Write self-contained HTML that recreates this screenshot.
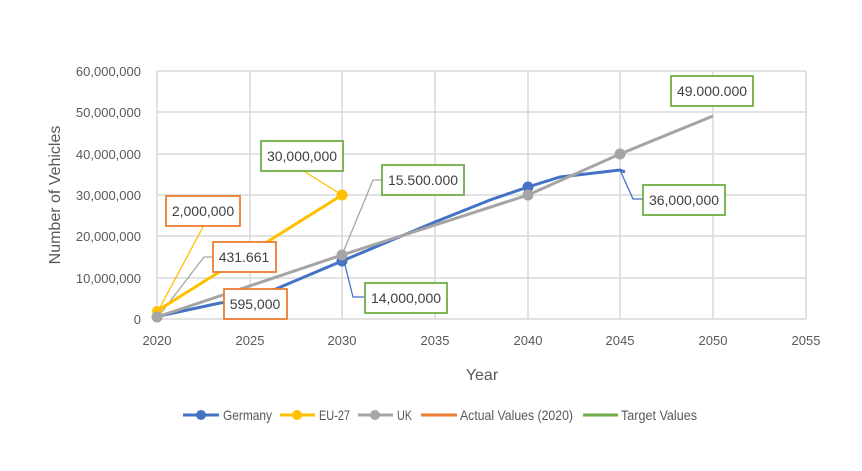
<!DOCTYPE html>
<html><head><style>body{margin:0;background:#fff}svg text{font-family:"Liberation Sans",sans-serif}</style></head><body>
<svg width="862" height="466" viewBox="0 0 862 466" xmlns="http://www.w3.org/2000/svg">
<rect width="862" height="466" fill="#fff"/>
<g stroke="#d9d9d9" stroke-width="1.5">
<line x1="157" y1="71" x2="806" y2="71"/><line x1="157" y1="112" x2="806" y2="112"/><line x1="157" y1="154" x2="806" y2="154"/><line x1="157" y1="195" x2="806" y2="195"/><line x1="157" y1="236" x2="806" y2="236"/><line x1="157" y1="278" x2="806" y2="278"/><line x1="157" y1="319" x2="806" y2="319"/>
<line x1="157" y1="71" x2="157" y2="319"/><line x1="250" y1="71" x2="250" y2="319"/><line x1="342" y1="71" x2="342" y2="319"/><line x1="435" y1="71" x2="435" y2="319"/><line x1="528" y1="71" x2="528" y2="319"/><line x1="620" y1="71" x2="620" y2="319"/><line x1="713" y1="71" x2="713" y2="319"/><line x1="806" y1="71" x2="806" y2="319"/>
</g>
<g font-size="13" fill="#595959" text-anchor="end">
<text x="141" y="76">60,000,000</text><text x="141" y="117">50,000,000</text><text x="141" y="159">40,000,000</text><text x="141" y="200">30,000,000</text><text x="141" y="241">20,000,000</text><text x="141" y="283">10,000,000</text><text x="141" y="324">0</text>
</g>
<g font-size="13" fill="#595959" text-anchor="middle">
<text x="157" y="345">2020</text><text x="250" y="345">2025</text><text x="342" y="345">2030</text><text x="435" y="345">2035</text><text x="528" y="345">2040</text><text x="620" y="345">2045</text><text x="713" y="345">2050</text><text x="806" y="345">2055</text>
</g>
<text x="482" y="380" font-size="16" fill="#595959" text-anchor="middle">Year</text>
<text transform="translate(60,195) rotate(-90)" font-size="16" fill="#595959" text-anchor="middle">Number of Vehicles</text>
<g fill="none" stroke-width="1.3">
<polyline points="158,311 203,227" stroke="#ffc000"/>
<polyline points="158,317 204,257 214,257" stroke="#a5a5a5"/>
<polyline points="342,195 302,170" stroke="#ffc000"/>
<polyline points="342,255 373,180 382,180" stroke="#a5a5a5"/>
<polyline points="344,261 353,297 364,297" stroke="#4472c4"/>
<polyline points="620,170 633,199 643,199" stroke="#4472c4"/>
</g>
<polyline fill="none" stroke="#4472c4" stroke-width="3" points="157,316.5 220,303 250,300 342,261 435,222 490,200 528,187 560,177 620,170 625,172"/>
<polyline fill="none" stroke="#ffc000" stroke-width="3" points="157,311 342,195"/>
<polyline fill="none" stroke="#a5a5a5" stroke-width="3" points="157,317 342,255 528,195 620,154 713,116"/>
<circle cx="157" cy="311" r="5" fill="#ffc000"/><circle cx="342" cy="195" r="5.5" fill="#ffc000"/>
<circle cx="342" cy="261" r="5.5" fill="#4472c4"/><circle cx="528" cy="187" r="5.5" fill="#4472c4"/>
<circle cx="157" cy="317" r="5.5" fill="#a5a5a5"/><circle cx="342" cy="255" r="5.5" fill="#a5a5a5"/><circle cx="528" cy="195" r="5.5" fill="#a5a5a5"/><circle cx="620" cy="154" r="5.5" fill="#a5a5a5"/>
<g font-size="14" fill="#404040" stroke-width="1.8">
<rect x="166" y="196" width="74" height="30" fill="#fff" stroke="#ed7d31"/><text x="203" y="216" text-anchor="middle" stroke="none">2,000,000</text>
<rect x="213" y="242" width="63" height="30" fill="#fff" stroke="#ed7d31"/><text x="244" y="262" text-anchor="middle" stroke="none">431.661</text>
<rect x="224" y="289" width="63" height="30" fill="#fff" stroke="#ed7d31"/><text x="255" y="309" text-anchor="middle" stroke="none">595,000</text>
<rect x="261" y="141" width="82" height="30" fill="#fff" stroke="#70ad47"/><text x="302" y="161" text-anchor="middle" stroke="none">30,000,000</text>
<rect x="382" y="165" width="82" height="30" fill="#fff" stroke="#70ad47"/><text x="423" y="185" text-anchor="middle" stroke="none">15.500.000</text>
<rect x="365" y="283" width="82" height="30" fill="#fff" stroke="#70ad47"/><text x="406" y="303" text-anchor="middle" stroke="none">14,000,000</text>
<rect x="643" y="185" width="82" height="30" fill="#fff" stroke="#70ad47"/><text x="684" y="205" text-anchor="middle" stroke="none">36,000,000</text>
<rect x="671" y="76" width="82" height="30" fill="#fff" stroke="#70ad47"/><text x="712" y="96" text-anchor="middle" stroke="none">49.000.000</text>
</g>
<g font-size="14" fill="#595959" stroke-width="3">
<line x1="183" y1="415" x2="219" y2="415" stroke="#4472c4"/><circle cx="201" cy="415" r="5" fill="#4472c4"/><text x="223" y="420" textLength="49" lengthAdjust="spacingAndGlyphs">Germany</text>
<line x1="280" y1="415" x2="315" y2="415" stroke="#ffc000"/><circle cx="297" cy="415" r="5" fill="#ffc000"/><text x="319" y="420" textLength="31" lengthAdjust="spacingAndGlyphs">EU-27</text>
<line x1="358" y1="415" x2="393" y2="415" stroke="#a5a5a5"/><circle cx="375" cy="415" r="5" fill="#a5a5a5"/><text x="397" y="420" textLength="15" lengthAdjust="spacingAndGlyphs">UK</text>
<line x1="421" y1="415" x2="457" y2="415" stroke="#ed7d31"/><text x="460" y="420" textLength="113" lengthAdjust="spacingAndGlyphs">Actual Values (2020)</text>
<line x1="583" y1="415" x2="618" y2="415" stroke="#70ad47"/><text x="621" y="420" textLength="76" lengthAdjust="spacingAndGlyphs">Target Values</text>
</g>
</svg>
</body></html>
